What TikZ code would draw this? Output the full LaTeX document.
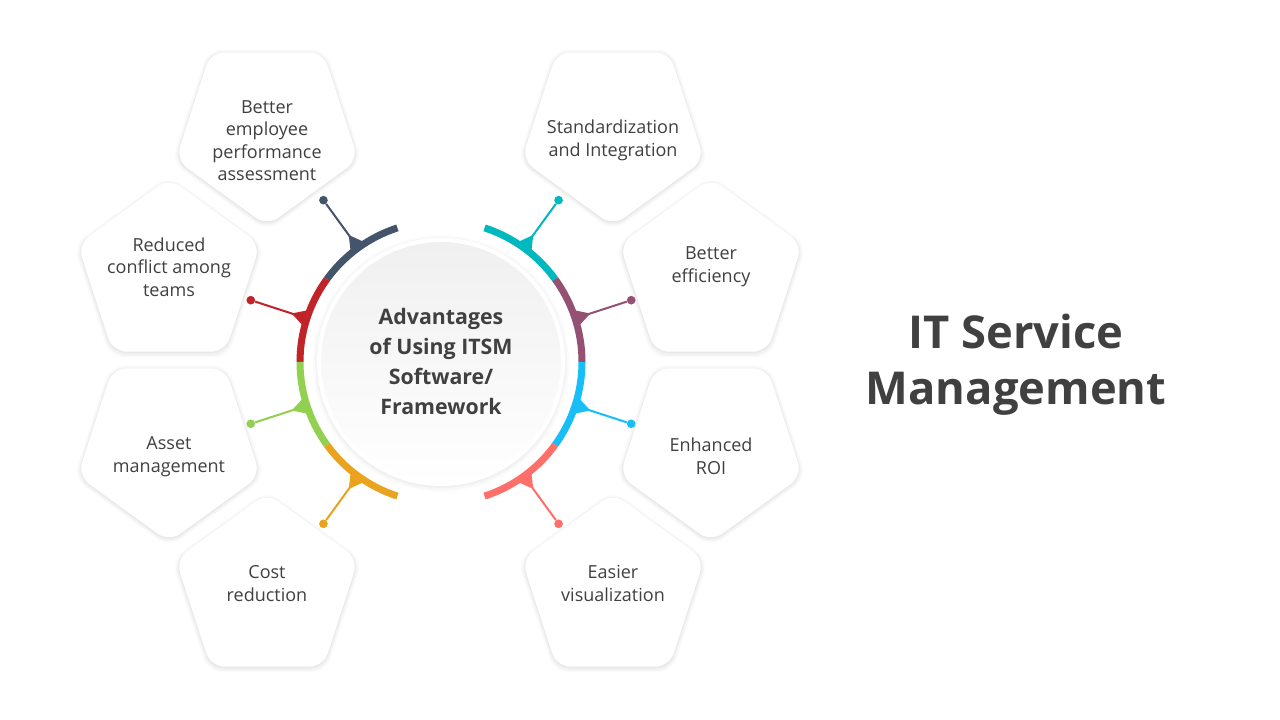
\documentclass[tikz,border=0pt]{standalone}
\usepackage{fontspec}
\setmainfont{Open Sans}
\usetikzlibrary{shapes.geometric,shadows}
\definecolor{Ink}{RGB}{64,64,64}
\definecolor{Slate}{RGB}{68,84,106}
\definecolor{Crimson}{RGB}{192,35,40}
\definecolor{Leaf}{RGB}{146,208,80}
\definecolor{Amber}{RGB}{233,163,31}
\definecolor{Teal}{RGB}{0,185,190}
\definecolor{Plum}{RGB}{149,81,115}
\definecolor{Sky}{RGB}{23,190,247}
\definecolor{Coral}{RGB}{255,111,105}

\tikzset{
  softshadow/.style={
    drop shadow={shadow xshift=0pt,shadow yshift=-1pt,shadow scale=1.05,opacity=0.015,fill=black},
    drop shadow={shadow xshift=0pt,shadow yshift=-1pt,shadow scale=1.035,opacity=0.02,fill=black},
    drop shadow={shadow xshift=0pt,shadow yshift=-1pt,shadow scale=1.02,opacity=0.025,fill=black},
    drop shadow={shadow xshift=0pt,shadow yshift=-0.5pt,shadow scale=1.008,opacity=0.03,fill=black}},
  petal/.style={regular polygon,regular polygon sides=5,
    minimum size=144pt,inner sep=0pt,fill=white,rounded corners=10.5pt,softshadow},
  petaldown/.style={petal,shape border rotate=180},
  petaltext/.style={align=center,text=Ink,font=\fontsize{13.5}{16.9}\selectfont},
  hub/.style={circle,minimum size=183pt,inner sep=0pt,top color=gray!12,bottom color=white,
    draw=white,line width=3pt,softshadow,align=center,text=Ink,
    font=\bfseries\fontsize{16}{22.5}\selectfont},
  band/.style={line width=5.25pt},
  stem/.style={line width=1.5pt},
  tipdot/.style={circle,inner sep=0pt,minimum size=6.5pt},
}

\begin{document}
\begin{tikzpicture}[x=0.75pt,y=0.75pt]
\path[use as bounding box,fill=white] (0,0) rectangle (1280,720);

% pentagons
\node[petaldown] (p1) at (267,590) {};
\node[petal] (p2) at (169,446) {};
\node[petaldown] (p3) at (169,274) {};
\node[petal] (p4) at (267,131) {};
\node[petaldown] (p5) at (613,590) {};
\node[petal] (p6) at (711,446) {};
\node[petaldown] (p7) at (711,274) {};
\node[petal] (p8) at (613,131) {};

\node[petaltext] (t1) at (267,579.5) {Better\\employee\\performance\\assessment};
\node[petaltext] (t2) at (169,453) {Reduced\\conflict among\\teams};
\node[petaltext] (t3) at (169,263.5) {Asset\\management};
\node[petaltext] (t4) at (267,136.5) {Cost\\reduction};
\node[petaltext] (t5) at (613,579.5) {Standardization\\and Integration};
\node[petaltext] (t6) at (711,453) {Better\\efficiency};
\node[petaltext] (t7) at (711,263.5) {Enhanced\\ROI};
\node[petaltext] (t8) at (613,136.5) {Easier\\visualization};

% centre
\node[hub] (hub) at (441,358) {Advantages\\of Using ITSM\\Software/\\Framework};

% ring segments with stems and dots
\begin{scope}[shift={(hub.center)}]
\foreach \i/\a/\col in {1/108/Slate,2/144/Crimson,3/180/Leaf,4/216/Amber,
                         5/36/Teal,6/0/Plum,7/-36/Sky,8/-72/Coral}{
  \pgfmathsetmacro{\m}{\a+18}
  \draw[band,\col] (\a:141) arc[start angle=\a,end angle=\a+36,radius=141];
  \fill[\col] (\m-3.2:143) -- (\m:157) -- (\m+3.2:143) -- cycle;
  \coordinate (k\i) at (\m:145);
  \node[tipdot,fill=\col] (d\i) at (\m:200) {};
  \draw[stem,\col] (k\i) -- (d\i);
}
\end{scope}

% title
\node[align=center,text=Ink,font=\bfseries\fontsize{34}{42}\selectfont] (title) at (1016,355) {IT Service\\Management};
\end{tikzpicture}
\end{document}
